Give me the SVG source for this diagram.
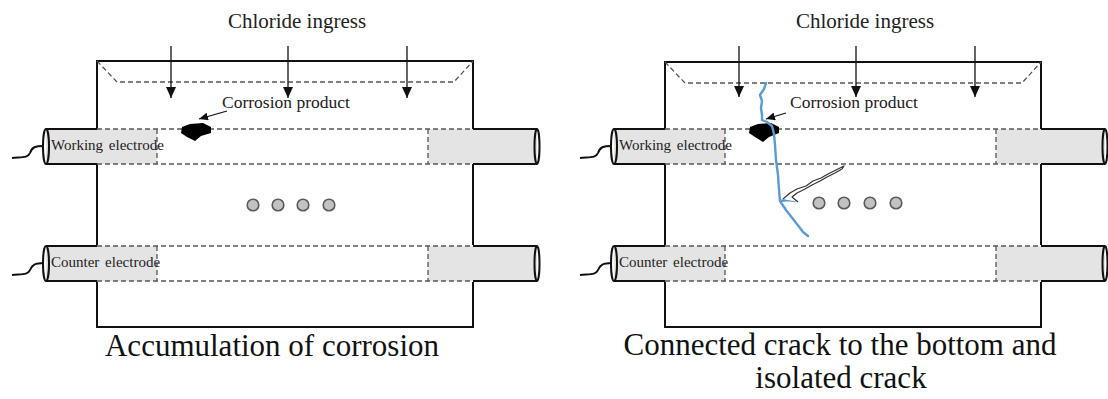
<svg xmlns="http://www.w3.org/2000/svg" width="1108" height="399" viewBox="0 0 1108 399">
  <defs>
    <marker id="head" markerUnits="userSpaceOnUse" markerWidth="10" markerHeight="12" refX="5" refY="11" orient="0" viewBox="0 0 10 12">
      <path d="M0,0 L10,0 L5,11 Z" fill="#111"/>
    </marker>
    <marker id="headSmall" markerUnits="userSpaceOnUse" markerWidth="9" markerHeight="8" refX="9" refY="4" orient="auto" viewBox="0 0 9 8">
      <path d="M0,0 L9,4 L0,8 Z" fill="#111"/>
    </marker>
    <!-- one electrode bar: grey ends, dashed run through the specimen -->
    <g id="electrodeBar">
      <rect x="46" y="0" width="111" height="35" fill="#e4e4e4"/>
      <rect x="428" y="0" width="109" height="35" fill="#e4e4e4"/>
      <path class="dash" d="M97,0 H473 M97,35 H473 M157,0 V35 M428,0 V35"/>
      <path class="solid" d="M97,0 H46 M46,35 H97 M473,0 H537 M473,35 H537"/>
      <ellipse class="solid" cx="46" cy="17.5" rx="3" ry="17.5" fill="#e4e4e4"/>
      <ellipse class="solid" cx="537" cy="17.5" rx="2.5" ry="17.5" fill="#e4e4e4"/>
    </g>
  </defs>
  <style>
    .solid { fill: none; stroke: #111; stroke-width: 2; }
    .dash { fill: none; stroke: #555; stroke-width: 1.3; stroke-dasharray: 5 3; }
    .arrow { stroke: #111; stroke-width: 1.3; fill: none; }
    .dot { fill: #c2c2c2; stroke: #5a5a5a; stroke-width: 1.6; }
    .lbl { font-family: "Liberation Serif", "Times New Roman", serif; fill: #222; }
    .el { font-size: 15px; word-spacing: 2px; }
    .cp { font-size: 17.5px; }
    .title { font-size: 21px; }
    .cap { font-size: 31px; fill: #111; }
    .blob { fill: #000; }
    .crack { fill: none; stroke: #5b9bd5; stroke-width: 2.4; stroke-linecap: round; stroke-linejoin: round; }
  </style>

  <rect width="1108" height="399" fill="#fff"/>

  <!-- ===== Left specimen: accumulation of corrosion ===== -->
  <g id="specimen-left">
    <path class="solid" d="M97,129 V61 H473 V129 M473,164 V245 M473,282 V327 H97 V282 M97,245 V164"/>
    <path class="dash" d="M97,61 L117,82 H454 L473,61"/>
  </g>
  <g id="working-electrode-left">
    <use href="#electrodeBar" transform="translate(0,129)"/>
    <path class="solid" stroke-width="1.8" d="M12,158 C22,157 28,158 30,153 C32,147 35,146 44,146"/>
    <text class="lbl el" x="51" y="150">Working electrode</text>
  </g>
  <g id="counter-electrode-left">
    <use href="#electrodeBar" transform="translate(0,246)"/>
    <path class="solid" stroke-width="1.8" d="M12,275 C22,274 28,275 30,270 C32,265 35,263 44,263"/>
    <text class="lbl el" x="51" y="267">Counter electrode</text>
  </g>
  <g id="corrosion-left">
    <path class="blob" d="M182,127 L190,124 L203,123 L211,127 L211,133 L201,136 L195,141 L187,137 L181,133 Z"/>
    <text class="lbl cp" x="222" y="108">Corrosion product</text>
  </g>
  <g id="aggregates-left">
    <circle class="dot" cx="253" cy="205" r="5.8"/>
    <circle class="dot" cx="278" cy="205" r="5.8"/>
    <circle class="dot" cx="303" cy="205" r="5.8"/>
    <circle class="dot" cx="329" cy="205" r="5.8"/>
  </g>
  <g id="chloride-left">
    <text class="lbl title" x="297" y="28" text-anchor="middle">Chloride ingress</text>
  </g>
  <text class="lbl cap" x="272" y="356" text-anchor="middle">Accumulation of corrosion</text>

  <!-- ===== Right specimen: connected and isolated cracks ===== -->
  <g id="specimen-right">
    <path class="solid" d="M665,129 V62 H1041 V129 M1041,164 V245 M1041,282 V327 H665 V282 M665,245 V164"/>
    <path class="dash" d="M665,62 L685,83 H1022 L1041,62"/>
  </g>
  <g id="working-electrode-right">
    <use href="#electrodeBar" transform="translate(568,129)"/>
    <path class="solid" stroke-width="1.8" d="M580,158 C590,157 596,158 598,153 C600,147 603,146 612,146"/>
    <text class="lbl el" x="619" y="150">Working electrode</text>
  </g>
  <g id="counter-electrode-right">
    <use href="#electrodeBar" transform="translate(568,246)"/>
    <path class="solid" stroke-width="1.8" d="M580,275 C590,274 596,275 598,270 C600,265 603,263 612,263"/>
    <text class="lbl el" x="619" y="267">Counter electrode</text>
  </g>
  <g id="corrosion-right">
    <path class="blob" d="M750,127 L758,124 L771,123 L779,127 L779,133 L769,137 L763,142 L755,137 L749,133 Z"/>
    <text class="lbl cp" x="790" y="108">Corrosion product</text>
  </g>
  <g id="aggregates-right">
    <circle class="dot" cx="819" cy="203" r="5.8"/>
    <circle class="dot" cx="844" cy="203" r="5.8"/>
    <circle class="dot" cx="870" cy="203" r="5.8"/>
    <circle class="dot" cx="896" cy="203" r="5.8"/>
  </g>
  <g id="connected-crack">
    <path class="crack" d="M766,83 L764,89 L760,95 L762,101 L761,108 L762,115 L762,120 L767,122 L772,126 L774,134 L775,145 L776,160 L778,175 L779,190 L780,201 L786,210 L793,219 L800,228 L803,232 L808,236"/>
    <path class="crack" stroke-width="1.8" d="M780,201 L788,200 L795,201"/>
  </g>
  <g id="isolated-crack">
    <path d="M783,199 L790,193 L797,189 L806,186 L813,181 L821,178 L828,174 L836,170 L844,166 L842,169 L835,173 L827,177 L820,181 L812,185 L805,189 L797,193 L792,197 L798,202" fill="#fff" stroke="#333" stroke-width="1.2" stroke-linejoin="round"/>
  </g>
  <g id="chloride-right">
    <text class="lbl title" x="865" y="28" text-anchor="middle">Chloride ingress</text>
  </g>
  <text class="lbl cap" x="840" y="355" text-anchor="middle">Connected crack to the bottom and</text>
  <text class="lbl cap" x="841" y="388" text-anchor="middle">isolated crack</text>

  <!-- ===== Connectors: chloride arrows and label pointers ===== -->
  <g id="connectors">
    <line class="arrow" x1="171" y1="46" x2="171" y2="98" marker-end="url(#head)"/>
    <line class="arrow" x1="288" y1="46" x2="288" y2="98" marker-end="url(#head)"/>
    <line class="arrow" x1="407" y1="46" x2="407" y2="98" marker-end="url(#head)"/>
    <line class="arrow" x1="739" y1="46" x2="739" y2="97" marker-end="url(#head)"/>
    <line class="arrow" x1="856" y1="46" x2="856" y2="97" marker-end="url(#head)"/>
    <line class="arrow" x1="975" y1="46" x2="975" y2="97" marker-end="url(#head)"/>
    <line class="arrow" x1="227" y1="111" x2="199" y2="119" marker-end="url(#headSmall)"/>
    <line class="arrow" x1="786" y1="113" x2="766" y2="119" marker-end="url(#headSmall)"/>
  </g>
</svg>
